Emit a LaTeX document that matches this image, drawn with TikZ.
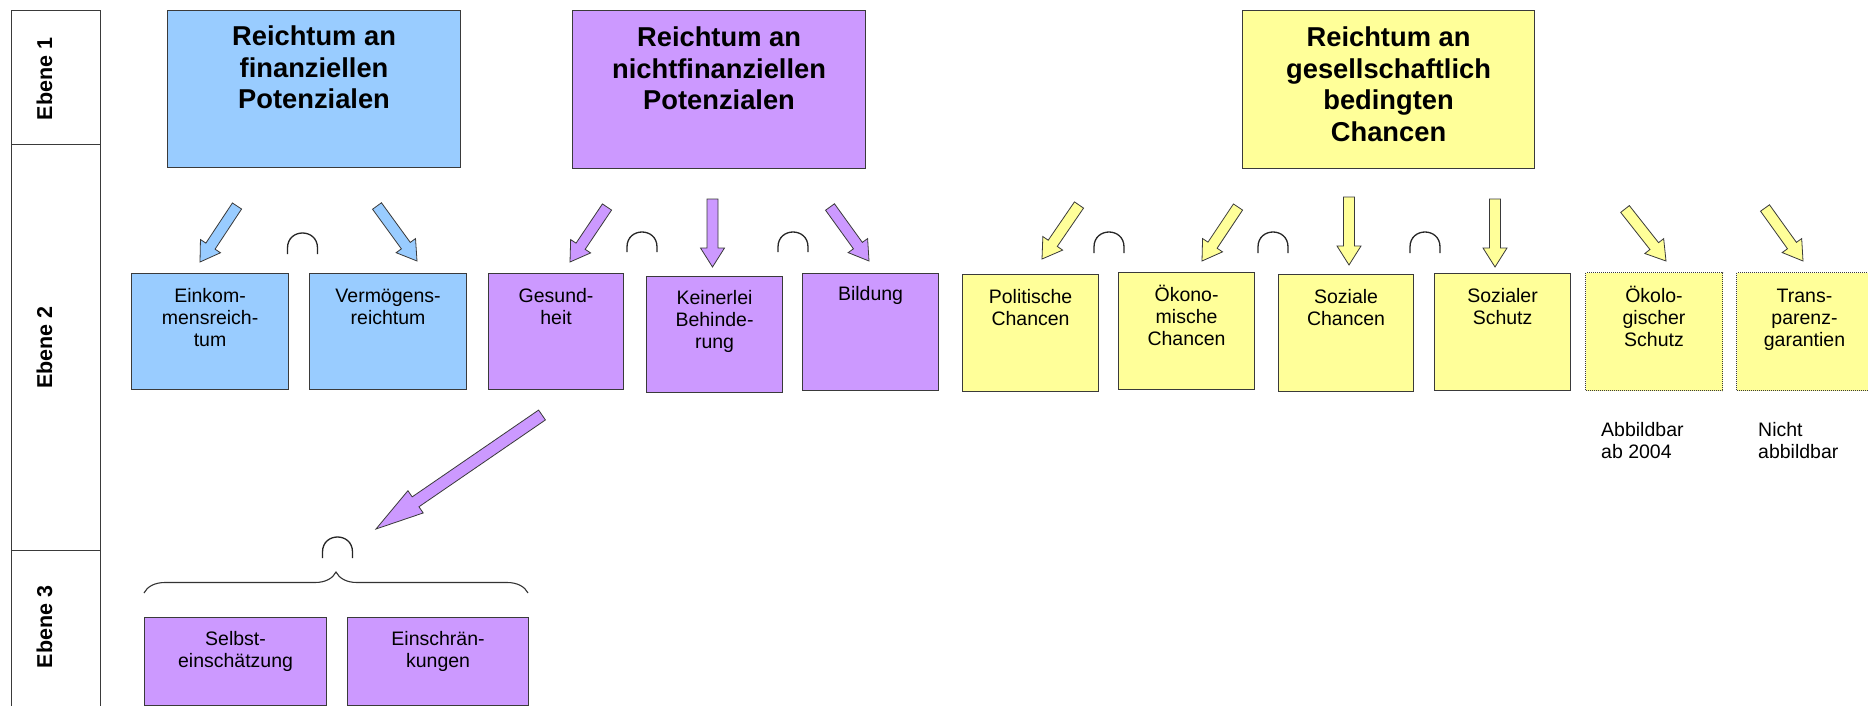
\documentclass[tikz,border=0pt]{standalone}
\usepackage{fontspec}
\setmainfont{Liberation Sans}
\usetikzlibrary{calc,decorations.pathreplacing}
\definecolor{cblue}{HTML}{99CCFF}
\definecolor{cpurple}{HTML}{CC99FF}
\definecolor{cyellow}{HTML}{FFFF99}
\definecolor{cline}{HTML}{3A3A3A}
\newcommand{\boxtext}[5]{\parbox[t][#2][t]{#1}{#4\centering\rule{0pt}{#3}#5}}
\newcommand{\topfont}{\fontsize{27.3}{31.5}\selectfont\bfseries}
\newcommand{\smfont}{\fontsize{19.5}{22}\selectfont}
\newcommand{\blockarrow}[6]{%
  \coordinate (tmpB) at ($(#3)!#6!(#2)$);
  \draw[#1] ($(#2)!#4!90:(#3)$) -- ($(tmpB)!#4!-90:(#2)$) -- ($(tmpB)!#5!-90:(#2)$) -- (#3)
    -- ($(tmpB)!#5!90:(#2)$) -- ($(tmpB)!#4!90:(#2)$) -- ($(#2)!#4!-90:(#3)$) -- cycle;}
\newcommand{\capsym}[3]{%
  \draw[capline] (#1-15,#3) -- (#1-15,#2+15) .. controls (#1-15,#2-5) and (#1+15,#2-5) .. (#1+15,#2+15) -- (#1+15,#3);}
\tikzset{
  bx/.style={draw=cline, line width=1.1pt, inner sep=0pt, anchor=north west},
  dotbx/.style={draw=cline, line width=1pt, dash pattern=on 1pt off 1pt, inner sep=0pt, anchor=north west},
  colbox/.style={draw=cline, line width=1pt},
  ebtxt/.style={font=\fontsize{21.5}{24}\selectfont\bfseries, rotate=90, anchor=base, inner sep=0pt},
  arrblue/.style={fill=cblue, draw=cline, line width=0.8pt, line join=miter},
  arrpurple/.style={fill=cpurple, draw=cline, line width=0.8pt, line join=miter},
  arryellow/.style={fill=cyellow, draw=cline, line width=0.8pt, line join=miter},
  capline/.style={draw=black!85, line width=1.3pt},
  notetxt/.style={font=\smfont, align=left, anchor=base west, inner sep=0pt},
}
\begin{document}
\begin{tikzpicture}[x=1pt, y=-1pt]
\useasboundingbox (0,0) rectangle (1868,706);
\fill[white] (0,0) rectangle (1868,706);

% level column
\draw[colbox] (11,11) rectangle (100.5,145);
\draw[colbox] (11,145) rectangle (100.5,550);
\draw[colbox] (11,550) rectangle (100.5,708);
\node[ebtxt] (e1) at (52,79) {Ebene 1};
\node[ebtxt] (e2) at (52,347.5) {Ebene 2};
\node[ebtxt] (e3) at (52,627) {Ebene 3};

% level 1
\node[bx, fill=cblue] (fin) at (167,10) {\boxtext{293pt}{157pt}{35pt}{\topfont}{Reichtum an\\finanziellen\\Potenzialen}};
\node[bx, fill=cpurple] (nfin) at (572,10) {\boxtext{293pt}{158pt}{36pt}{\topfont}{Reichtum an\\nichtfinanziellen\\Potenzialen}};
\node[bx, fill=cyellow] (ges) at (1242,10) {\boxtext{292pt}{158pt}{36pt}{\topfont}{Reichtum an\\gesellschaftlich\\bedingten\\Chancen}};

% level 2
\node[bx, fill=cblue] (einkom) at (131,273) {\boxtext{157pt}{116pt}{28.5pt}{\smfont}{Einkom-\\mensreich-\\tum}};
\node[bx, fill=cblue] (verm) at (309,273) {\boxtext{157pt}{116pt}{28.5pt}{\smfont}{Vermögens-\\reichtum}};
\node[bx, fill=cpurple] (gesund) at (488,273) {\boxtext{135pt}{116pt}{28.5pt}{\smfont}{Gesund-\\heit}};
\node[bx, fill=cpurple] (keinerlei) at (646,276) {\boxtext{136pt}{116pt}{27.5pt}{\smfont}{Keinerlei\\Behinde-\\rung}};
\node[bx, fill=cpurple] (bildung) at (802,272.5) {\boxtext{136pt}{117pt}{27.5pt}{\smfont}{Bildung}};
\node[bx, fill=cyellow] (polit) at (962,274) {\boxtext{136pt}{117pt}{29pt}{\smfont}{Politische\\Chancen}};
\node[bx, fill=cyellow] (oekon) at (1118,272) {\boxtext{136pt}{117pt}{29pt}{\smfont}{Ökono-\\mische\\Chancen}};
\node[bx, fill=cyellow] (sozial) at (1278,274) {\boxtext{135pt}{117pt}{29pt}{\smfont}{Soziale\\Chancen}};
\node[bx, fill=cyellow] (sschutz) at (1434,273) {\boxtext{136pt}{117pt}{29pt}{\smfont}{Sozialer\\Schutz}};
\node[dotbx, fill=cyellow] (oekolo) at (1585,272) {\boxtext{137pt}{118pt}{30pt}{\smfont}{Ökolo-\\gischer\\Schutz}};
\node[dotbx, fill=cyellow] (transp) at (1736,272) {\boxtext{136pt}{118pt}{30pt}{\smfont}{Trans-\\parenz-\\garantien}};

% notes (base anchor = last line)
\node[notetxt] (n1) at (1601,458.5) {Abbildbar\\ab 2004};
\node[notetxt] (n2) at (1758,458.5) {Nicht\\abbildbar};

% level 3
\node[bx, fill=cpurple] (selbst) at (144,617) {\boxtext{182pt}{88pt}{28pt}{\smfont}{Selbst-\\einschätzung}};
\node[bx, fill=cpurple] (einschr) at (347,617) {\boxtext{181pt}{88pt}{28pt}{\smfont}{Einschrän-\\kungen}};

% arrow anchor coordinates
\coordinate (a1t) at (237,206);   \coordinate (a1h) at (200,262);
\coordinate (a2t) at (377,206);   \coordinate (a2h) at (417,261);
\coordinate (p1t) at (607,207);   \coordinate (p1h) at (570,262);
\coordinate (p2t) at (712.5,199); \coordinate (p2h) at (712.5,267);
\coordinate (p3t) at (830,207);   \coordinate (p3h) at (869,261);
\coordinate (y1t) at (1079,205);  \coordinate (y1h) at (1042,259);
\coordinate (y2t) at (1238,207);  \coordinate (y2h) at (1202,261);
\coordinate (y3t) at (1349,197);  \coordinate (y3h) at (1349,265);
\coordinate (y4t) at (1495,199);  \coordinate (y4h) at (1495,267);
\coordinate (y5t) at (1625,209);  \coordinate (y5h) at (1666,261);
\coordinate (y6t) at (1765,208);  \coordinate (y6h) at (1803,261);
\coordinate (bgt) at (542,415);   \coordinate (bgh) at (376,529);

\blockarrow{arrblue}{a1t}{a1h}{5.5pt}{12pt}{19pt}
\blockarrow{arrblue}{a2t}{a2h}{5.5pt}{12pt}{19pt}
\blockarrow{arrpurple}{p1t}{p1h}{5.5pt}{12pt}{19pt}
\blockarrow{arrpurple}{p2t}{p2h}{5.5pt}{12pt}{19pt}
\blockarrow{arrpurple}{p3t}{p3h}{5.5pt}{12pt}{19pt}
\blockarrow{arryellow}{y1t}{y1h}{5.5pt}{12pt}{19pt}
\blockarrow{arryellow}{y2t}{y2h}{5.5pt}{12pt}{19pt}
\blockarrow{arryellow}{y3t}{y3h}{5.5pt}{12pt}{19pt}
\blockarrow{arryellow}{y4t}{y4h}{5.5pt}{12pt}{19pt}
\blockarrow{arryellow}{y5t}{y5h}{5.5pt}{12pt}{19pt}
\blockarrow{arryellow}{y6t}{y6h}{5.5pt}{12pt}{19pt}
\blockarrow{arrpurple}{bgt}{bgh}{6pt}{13.5pt}{48pt}

% intersection symbols
\capsym{302.5}{233}{254}
\capsym{642}{232}{252}
\capsym{793}{232}{252}
\capsym{1109}{232}{253}
\capsym{1273}{232}{253}
\capsym{1425}{232}{253}
\capsym{337.5}{537}{558}

% brace
\draw[draw=black!80, line width=1.1pt, decorate, decoration={brace, amplitude=21pt}] (144,593) -- (528,593);
\end{tikzpicture}
\end{document}
